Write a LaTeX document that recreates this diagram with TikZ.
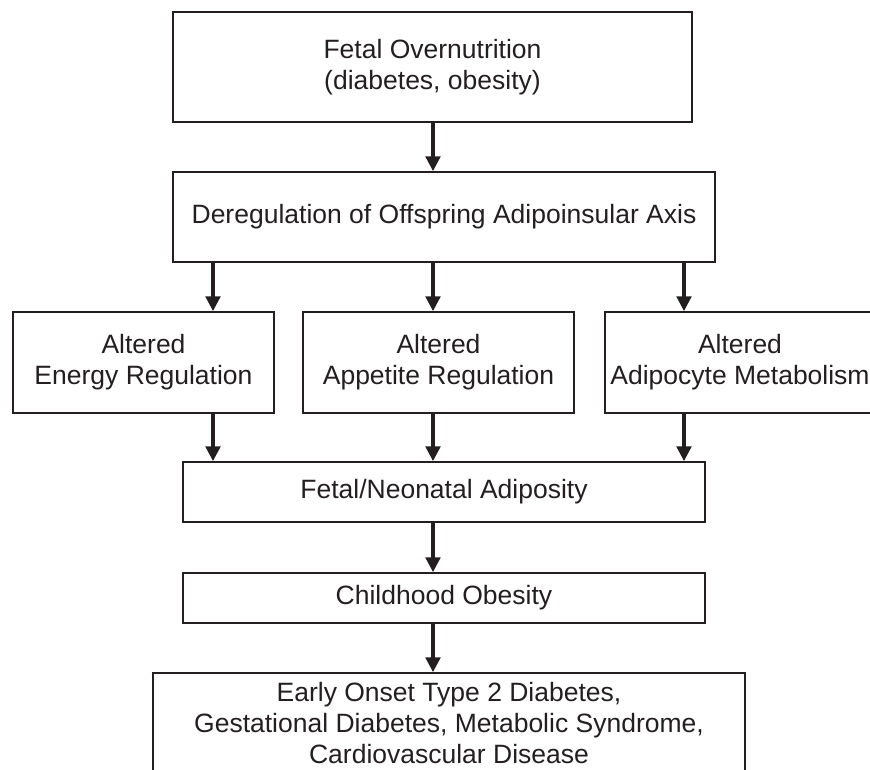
\documentclass[tikz,border=0pt]{standalone}
\usepackage{fontspec}
\setmainfont{Liberation Sans}
\usetikzlibrary{arrows.meta}
\definecolor{ink}{HTML}{231F20}
\begin{document}
\begin{tikzpicture}[x=1pt,y=-1pt,
  box/.style={draw=ink, line width=1.5pt, inner sep=0pt, align=center,
    font=\fontsize{26.5}{31}\selectfont, text=ink},
  flow/.style={draw=ink, line width=4.3pt, -{Triangle[length=15pt,width=14.5pt]}}]
\useasboundingbox (0,0) rectangle (870,769);
\node[box, minimum width=519pt, minimum height=110pt] (n1) at (432.5,67) {Fetal Overnutrition\\(diabetes, obesity)};
\node[box, minimum width=542pt, minimum height=90pt] (n2) at (444,217) {Deregulation of Offspring Adipoinsular Axis};
\node[box, minimum width=261pt, minimum height=101pt] (n3) at (143.5,362.5) {Altered\\Energy Regulation};
\node[box, minimum width=271pt, minimum height=101pt] (n4) at (438.5,362.5) {Altered\\Appetite Regulation};
\node[box, minimum width=270pt, minimum height=101pt] (n5) at (740,362.5) {Altered\\Adipocyte Metabolism};
\node[box, minimum width=522pt, minimum height=60pt] (n6) at (444,492) {Fetal/Neonatal Adiposity};
\node[box, minimum width=522pt, minimum height=50pt] (n7) at (444,598) {Childhood Obesity};
\node[box, minimum width=592pt, minimum height=100pt] (n8) at (449,723) {Early Onset Type 2 Diabetes,\\Gestational Diabetes, Metabolic Syndrome,\\Cardiovascular Disease};
\coordinate (cl) at (213,0);
\coordinate (cm) at (433,0);
\coordinate (cr) at (684,0);
\draw[flow] (n1.south -| cm) -- (n2.north -| cm);
\draw[flow] (n2.south -| cl) -- (n3.north -| cl);
\draw[flow] (n2.south -| cm) -- (n4.north -| cm);
\draw[flow] (n2.south -| cr) -- (n5.north -| cr);
\draw[flow] (n3.south -| cl) -- (n6.north -| cl);
\draw[flow] (n4.south -| cm) -- (n6.north -| cm);
\draw[flow] (n5.south -| cr) -- (n6.north -| cr);
\draw[flow] (n6.south -| cm) -- (n7.north -| cm);
\draw[flow] (n7.south -| cm) -- (n8.north -| cm);
\end{tikzpicture}
\end{document}
